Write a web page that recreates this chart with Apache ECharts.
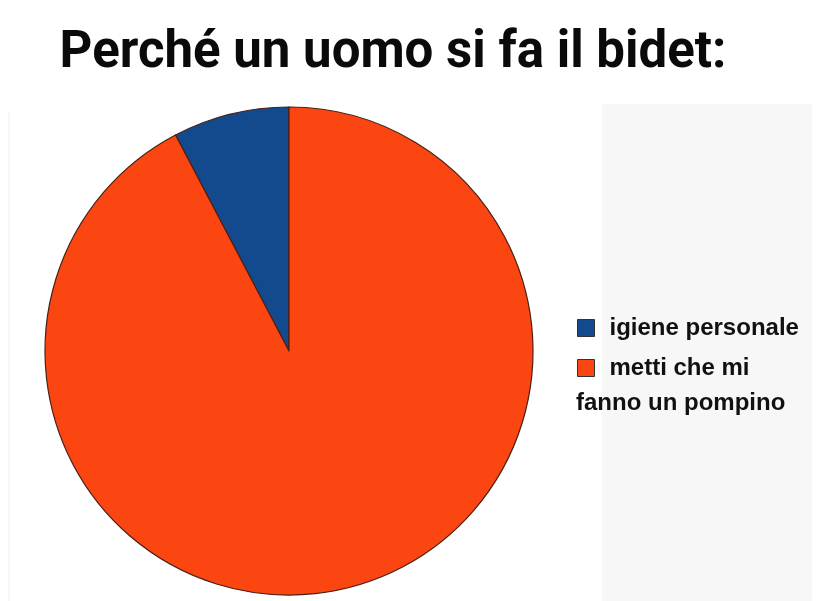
<!DOCTYPE html>
<html>
<head>
<meta charset="utf-8">
<script src="https://cdn.jsdelivr.net/npm/echarts@6/dist/echarts.min.js"></script>
<style>html,body{margin:0;padding:0;background:#fff;}#c{width:818px;height:601px;}</style>
</head>
<body>
<div id="c"></div>
<script>
var titleText = 'Perché un uomo si fa il bidet:';
var categories = ['igiene personale', 'metti che mi fanno un pompino'];
var values = [7.7, 92.3];
var colors = ['#134a8e', '#fc4611'];

var chart = echarts.init(document.getElementById('c'));
var secondLines = categories[1].split(' ');
var line1 = secondLines.slice(0, 3).join(' ');
var line2 = secondLines.slice(3).join(' ');

chart.setOption({
  backgroundColor: '#ffffff',
  title: {
    text: titleText,
    left: 393, top: 29, textAlign: 'center', padding: 0,
    textStyle: { fontFamily: 'Roboto', fontWeight: 'bold', fontSize: 51, color: '#0a0a0a' }
  },
  graphic: [
    { type: 'rect', z: -10, shape: { x: 602, y: 104, width: 210, height: 497 }, style: { fill: '#f7f7f7' } },
    { type: 'line', z: -10, shape: { x1: 9, y1: 112, x2: 9, y2: 601 }, style: { stroke: '#f0f0f0', lineWidth: 1 } },
    { type: 'text', left: 576, top: 391, style: { text: line2, font: 'bold 24px "Liberation Sans"', fill: '#111' } }
  ],
  legend: {
    orient: 'vertical',
    left: 577, top: 316, padding: 0,
    itemWidth: 17, itemHeight: 17, itemGap: 16,
    icon: 'rect',
    textStyle: { fontFamily: 'Liberation Sans', fontWeight: 'bold', fontSize: 24, color: '#111', lineHeight: 24, padding: [0, 0, 0, 10] },
    formatter: function (name) { return name === categories[1] ? line1 : name; },
    itemStyle: { borderColor: '#333', borderWidth: 1 },
    selectedMode: false
  },
  series: [{
    type: 'pie',
    center: [289, 351],
    radius: 244,
    startAngle: 90,
    clockwise: false,
    label: { show: false },
    labelLine: { show: false },
    emphasis: { disabled: true },
    animation: false,
    itemStyle: { borderColor: '#4a2016', borderWidth: 1.2 },
    data: categories.map(function (c, i) {
      return { name: c, value: values[i], itemStyle: { color: colors[i] } };
    })
  }]
});
</script>
</body>
</html>
